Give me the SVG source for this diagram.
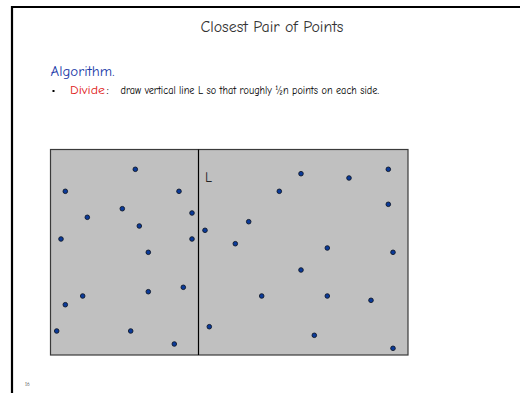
<svg xmlns="http://www.w3.org/2000/svg" width="520" height="393" viewBox="0 0 520 393">
<style>
.t{font-family:"Comic Neue","Liberation Sans","DejaVu Sans",sans-serif}
.pt{fill:#0a3a9a;stroke:#10182a;stroke-width:0.9}
</style>
<rect width="520" height="393" fill="#ffffff"/>
<path d="M12 393 V7 H520" fill="none" stroke="#000" stroke-width="2.2"/>
<text class="t" x="272" y="31.5" font-size="15.5" fill="#333" text-anchor="middle" textLength="143" lengthAdjust="spacingAndGlyphs">Closest Pair of Points</text>
<text class="t" x="50.5" y="75.5" font-size="13" fill="#1a3aa8" textLength="64" lengthAdjust="spacingAndGlyphs">Algorithm.</text>
<rect x="52.5" y="90" width="2" height="2" fill="#000"/>
<text class="t" x="70" y="93.5" font-size="12.5" fill="#e01818" textLength="35" lengthAdjust="spacingAndGlyphs">Divide</text>
<text class="t" x="106.5" y="93.5" font-size="12.5" fill="#000">:</text>
<text class="t" x="120.5" y="93.5" font-size="12" fill="#000" textLength="258.5" lengthAdjust="spacingAndGlyphs">draw vertical line L so that roughly ½n points on each side.</text>
<g id="plane">
<rect x="50.5" y="149.5" width="357.5" height="205.5" fill="#c0c0c0" stroke="#3a3a3a" stroke-width="1.2"/>
<line x1="198.5" y1="149.5" x2="198.5" y2="355" stroke="#000" stroke-width="1.2"/>
<text class="t" x="205" y="182" font-size="14" fill="#222">L</text>
</g>
<g id="points">
<circle class="pt" cx="135.3" cy="169.3" r="2.3"/>
<circle class="pt" cx="65.3" cy="191.3" r="2.3"/>
<circle class="pt" cx="179" cy="191.3" r="2.3"/>
<circle class="pt" cx="122.3" cy="208.7" r="2.3"/>
<circle class="pt" cx="192" cy="213" r="2.3"/>
<circle class="pt" cx="87.3" cy="217.3" r="2.3"/>
<circle class="pt" cx="139.3" cy="226" r="2.3"/>
<circle class="pt" cx="205" cy="230.3" r="2.3"/>
<circle class="pt" cx="61" cy="239" r="2.3"/>
<circle class="pt" cx="192" cy="239" r="2.3"/>
<circle class="pt" cx="148.3" cy="252.3" r="2.3"/>
<circle class="pt" cx="148.3" cy="291.7" r="2.3"/>
<circle class="pt" cx="183.3" cy="287.3" r="2.3"/>
<circle class="pt" cx="82.7" cy="296" r="2.3"/>
<circle class="pt" cx="65.3" cy="304.7" r="2.3"/>
<circle class="pt" cx="56.7" cy="331" r="2.3"/>
<circle class="pt" cx="130.7" cy="331" r="2.3"/>
<circle class="pt" cx="209.3" cy="326.7" r="2.3"/>
<circle class="pt" cx="174.3" cy="344" r="2.3"/>
<circle class="pt" cx="301" cy="173.7" r="2.3"/>
<circle class="pt" cx="349" cy="178" r="2.3"/>
<circle class="pt" cx="388.3" cy="169.3" r="2.3"/>
<circle class="pt" cx="279.3" cy="191.3" r="2.3"/>
<circle class="pt" cx="388.3" cy="204.3" r="2.3"/>
<circle class="pt" cx="248.7" cy="221.7" r="2.3"/>
<circle class="pt" cx="235.3" cy="243.7" r="2.3"/>
<circle class="pt" cx="327.3" cy="248" r="2.3"/>
<circle class="pt" cx="393" cy="252.3" r="2.3"/>
<circle class="pt" cx="301" cy="270" r="2.3"/>
<circle class="pt" cx="261.7" cy="296" r="2.3"/>
<circle class="pt" cx="327.3" cy="296" r="2.3"/>
<circle class="pt" cx="371" cy="300.3" r="2.3"/>
<circle class="pt" cx="314.3" cy="335.3" r="2.3"/>
<circle class="pt" cx="393" cy="348.3" r="2.3"/>
</g>
<text class="t" x="25" y="386" font-size="5" fill="#333">16</text>
</svg>
